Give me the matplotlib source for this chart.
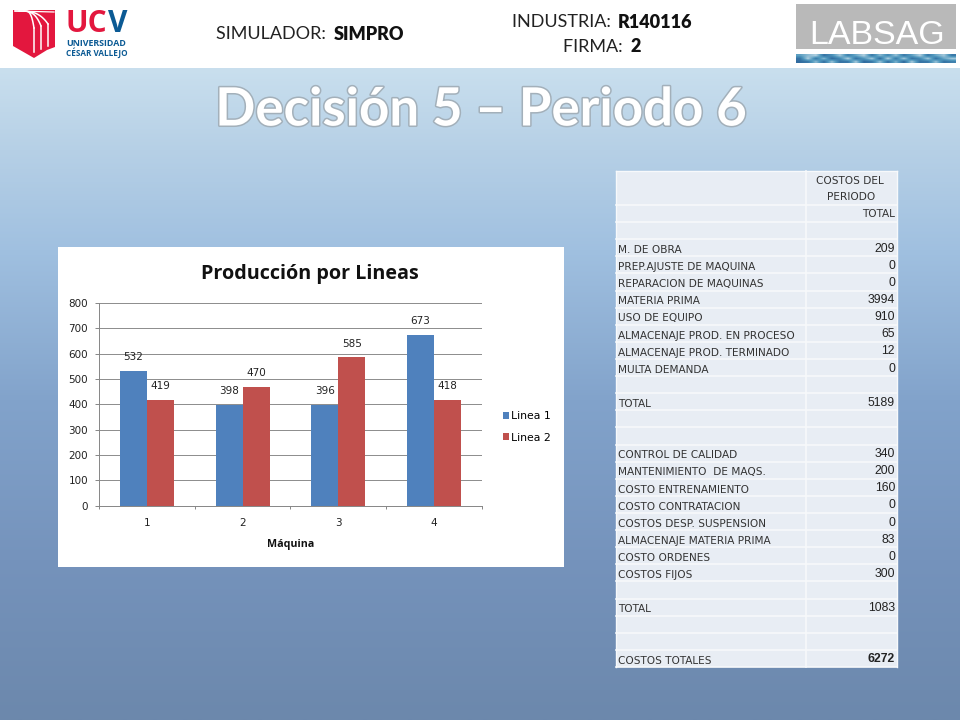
import numpy as np
import matplotlib
matplotlib.use("Agg")
import matplotlib.pyplot as plt
import matplotlib.patheffects as pe
from matplotlib.patches import Rectangle, Polygon

machines = [1, 2, 3, 4]
linea1 = [532, 398, 396, 673]
linea2 = [419, 470, 585, 418]
y_ticks = [0, 100, 200, 300, 400, 500, 600, 700, 800]

row_labels = ["", "", "M. DE OBRA", "PREP.AJUSTE DE MAQUINA", "REPARACION DE MAQUINAS",
              "MATERIA PRIMA", "USO DE EQUIPO", "ALMACENAJE PROD. EN PROCESO",
              "ALMACENAJE PROD. TERMINADO", "MULTA DEMANDA", "", "TOTAL", "", "",
              "CONTROL DE CALIDAD", "MANTENIMIENTO  DE MAQS.", "COSTO ENTRENAMIENTO",
              "COSTO CONTRATACION", "COSTOS DESP. SUSPENSION", "ALMACENAJE MATERIA PRIMA",
              "COSTO ORDENES", "COSTOS FIJOS", "", "TOTAL", "", "", "COSTOS TOTALES"]
row_values = ["TOTAL", "", "209", "0", "0", "3994", "910", "65", "12", "0", "", "5189", "", "",
              "340", "200", "160", "0", "0", "83", "0", "300", "", "1083", "", "", "6272"]

W, H = 960, 720
fig = plt.figure(figsize=(W / 100, H / 100), dpi=100, facecolor="white")

bg = fig.add_axes([0, 0, 1, 1])
bg.set_xlim(0, W)
bg.set_ylim(H, 0)
bg.axis("off")

stops_y = [68, 150, 250, 400, 560, 720]
stops_c = np.array([[201, 223, 238], [182, 208, 230], [160, 192, 224],
                    [130, 163, 203], [117, 147, 188], [108, 136, 172]]) / 255
ys = np.arange(68, 721)
grad = np.stack([np.interp(ys, stops_y, stops_c[:, i]) for i in range(3)], axis=1)[:, None, :]
bg.imshow(grad, extent=[0, W, H, 68], aspect="auto", zorder=0, interpolation="bilinear")

RED = "#e3173e"
BLUE = "#0b5a94"
# UCV logo
bg.add_patch(Polygon([(13, 10), (55, 10), (55, 47), (47, 50), (34, 58), (13, 46)], fc=RED, ec="none", zorder=2))
for sx, sy, cx, cy in [(15, 11, 48, 24), (19, 11, 41, 26), (24, 11, 34, 28)]:
    t = np.linspace(0, 1, 20)
    px = sx + (cx - sx) * t ** 0.6
    py = sy + (cy - sy) * t ** 2.2
    bg.plot(px, py, color="white", lw=1.1, zorder=3)
    bg.plot([cx, cx], [cy, 52 - (cx - 34) * 0.4], color="white", lw=1.1, zorder=3)
bg.plot([15, 54], [11, 12], color="white", lw=0.9, zorder=3)
bg.text(66, 32.5, "UC", color=RED, fontsize=21.5, fontweight="bold", family="Open Sans",
        va="baseline", ha="left", zorder=3)
bg.text(127.5, 32.5, "V", color=BLUE, fontsize=21.5, fontweight="bold", family="Open Sans",
        va="baseline", ha="right", zorder=3)
bg.text(96.5, 46, "UNIVERSIDAD", color=BLUE, fontsize=6.4, fontweight="bold", family="Open Sans",
        va="baseline", ha="center", zorder=3)
bg.text(96.5, 55.5, "CÉSAR VALLEJO", color=BLUE, fontsize=5.9, fontweight="bold", family="Open Sans",
        va="baseline", ha="center", zorder=3)

# header texts
def pair(x_center, y, a, b, size=13):
    t1 = bg.text(0, y, a + " ", fontsize=size, family="Lato", va="center", ha="left", color="#222222")
    t2 = bg.text(0, y, b, fontsize=size, family="Lato", fontweight="heavy", va="center", ha="left", color="#111111")
    r = fig.canvas.get_renderer()
    w1 = t1.get_window_extent(r).width + 3
    w2 = t2.get_window_extent(r).width
    x0 = x_center - (w1 + w2) / 2
    t1.set_x(x0)
    t2.set_x(x0 + w1)

pair(310, 34, "SIMULADOR:", "SIMPRO")
pair(602, 22, "INDUSTRIA:", "R140116")
pair(602, 47, "FIRMA:", "2")

# LABSAG logo
bg.add_patch(Rectangle((796, 4), 160, 45, fc="#b9b9b9", ec="none", zorder=2))
bg.text(877, 36, "LABSAG", color="white", fontsize=24.5, family="Liberation Sans",
        va="center", ha="center", zorder=3)
strip = np.array([[0.55, 0.72, 0.85, 0.25, 0.45, 0.8, 0.35, 0.6, 0.85, 0.3, 0.7, 0.4, 0.75, 0.3, 0.55, 0.85,
                   0.3, 0.6, 0.8, 0.3],
                  [0.25, 0.85, 0.3, 0.7, 0.2, 0.4, 0.85, 0.25, 0.5, 0.8, 0.2, 0.85, 0.3, 0.8, 0.25, 0.4,
                   0.8, 0.25, 0.6, 0.8],
                  [0.2, 0.3, 0.7, 0.25, 0.75, 0.25, 0.3, 0.8, 0.2, 0.3, 0.75, 0.25, 0.65, 0.2, 0.8, 0.25,
                   0.3, 0.75, 0.25, 0.35]])
bg.imshow(strip, extent=[796, 956, 63, 54], aspect="auto", cmap=matplotlib.colors.LinearSegmentedColormap.from_list(
    "s", ["#1c4f8c", "#4f97bd", "#d6e6ee"]), vmin=0, vmax=1, zorder=2, interpolation="bilinear")
bg.set_xlim(0, W)
bg.set_ylim(H, 0)

# main title
bg.text(481, 110, "Decisión 5 – Periodo 6", fontsize=38, fontweight="bold", family="Lato",
        color="white", va="center", ha="center", zorder=4,
        path_effects=[pe.withStroke(linewidth=2.2, foreground="#a3b0ba")])

# chart panel
bg.add_patch(Rectangle((58, 247), 506, 320, fc="white", ec="none", zorder=2))

ax = fig.add_axes([99.3 / W, 1 - 505.7 / H, (481.7 - 99.3) / W, (505.7 - 303) / H], zorder=3)
ax.set_facecolor("white")
x = np.array(machines, dtype=float)
bw = 0.283
c1, c2 = "#4f81bd", "#c0504d"
b1 = ax.bar(x - bw / 2, linea1, bw, color=c1, label="Linea 1", zorder=3)
b2 = ax.bar(x + bw / 2, linea2, bw, color=c2, label="Linea 2", zorder=3)
ax.set_xlim(0.5, 4.5)
ax.set_ylim(0, 800)
ax.set_yticks(y_ticks)
ax.set_xticks(machines)
ax.grid(axis="y", color="#8c8c8c", lw=0.7, zorder=1)
ax.set_axisbelow(True)
for s in ["top", "right"]:
    ax.spines[s].set_visible(False)
for s in ["left", "bottom"]:
    ax.spines[s].set_color("#868686")
    ax.spines[s].set_linewidth(0.7)
ax.tick_params(axis="y", length=3, width=0.7, color="#868686", labelsize=7.5, pad=5, labelcolor="#222222", direction="out")
ax.tick_params(axis="x", length=0, labelsize=7.5, pad=9, labelcolor="#222222")
edges = np.arange(0.5, 5.0, 1.0)
ax.vlines(edges, -14, 0, color="#868686", lw=0.7, clip_on=False)
for lab in ax.get_xticklabels() + ax.get_yticklabels():
    lab.set_family("DejaVu Sans")
for bars, vals in ((b1, linea1), (b2, linea2)):
    for r, v in zip(bars, vals):
        ax.annotate(str(v), (r.get_x() + r.get_width() / 2, v), xytext=(0, 10), textcoords="offset points",
                    ha="center", va="center", fontsize=7.5, family="DejaVu Sans", color="#222222")
ax.set_xlabel("Máquina", fontsize=7.7, fontweight="bold", family="Open Sans", color="#111111")
ax.xaxis.set_label_coords(0.5, -0.165)
fig.text(310 / W, 1 - 274.5 / H, "Producción por Lineas", fontsize=14.2, fontweight="bold", family="Open Sans",
         ha="center", va="center", color="#111111", zorder=5)
fig.legend(handles=[b1, b2], labels=["Linea 1", "Linea 2"], loc="center left",
           bbox_to_anchor=(503 / W, 1 - 427 / H), frameon=False, handlelength=0.58,
           handleheight=0.63, handletextpad=0.2, labelspacing=1.05, borderpad=0, borderaxespad=0,
           prop={"family": "DejaVu Sans", "size": 7.8})

# table
tx0, tx1, tx2 = 616, 806, 897
ty0, ty_head, ty_end = 171, 205, 667
cell = "#e8edf4"
grid = "#f7f9fb"
txt = "#333333"
fs = 7.6
bg.add_patch(Rectangle((tx0, ty0), tx2 - tx0, ty_end - ty0, fc=cell, ec="none", zorder=2))
n = len(row_labels)
rh = (ty_end - ty_head) / n
bg.plot([tx1, tx1], [ty0, ty_end], color=grid, lw=1.2, zorder=3)
bg.plot([tx0, tx0], [ty0, ty_end], color=grid, lw=1.0, zorder=3)
bg.plot([tx2, tx2], [ty0, ty_end], color=grid, lw=1.0, zorder=3)
bg.plot([tx0, tx2], [ty0, ty0], color=grid, lw=1.0, zorder=3)
bg.plot([tx0, tx2], [ty_head, ty_head], color=grid, lw=1.2, zorder=3)
bg.text(850, 181, "COSTOS DEL", fontsize=fs, family="DejaVu Sans", ha="center", va="center", color=txt, zorder=4)
bg.text(851, 197, "PERIODO", fontsize=fs, family="DejaVu Sans", ha="center", va="center", color=txt, zorder=4)
for i, (lab, val) in enumerate(zip(row_labels, row_values)):
    y = ty_head + (i + 1) * rh
    bg.plot([tx0, tx2], [y, y], color=grid, lw=1.2, zorder=3)
    yc = y - rh / 2 + 2.2
    if lab:
        bg.text(618, yc, lab, fontsize=fs, family="DejaVu Sans", ha="left", va="center", color=txt, zorder=4)
    if val == "TOTAL":
        bg.text(895, yc - 1.5, val, fontsize=fs, family="DejaVu Sans", ha="right", va="center", color=txt, zorder=4)
    elif val:
        bold = val == "6272"
        bg.text(895, yc - 1.2, val, fontsize=8.8, family="Liberation Sans", ha="right", va="center",
                fontweight="bold" if bold else "normal", color="#222222", zorder=4)

fig.savefig("out.png", dpi=100)
